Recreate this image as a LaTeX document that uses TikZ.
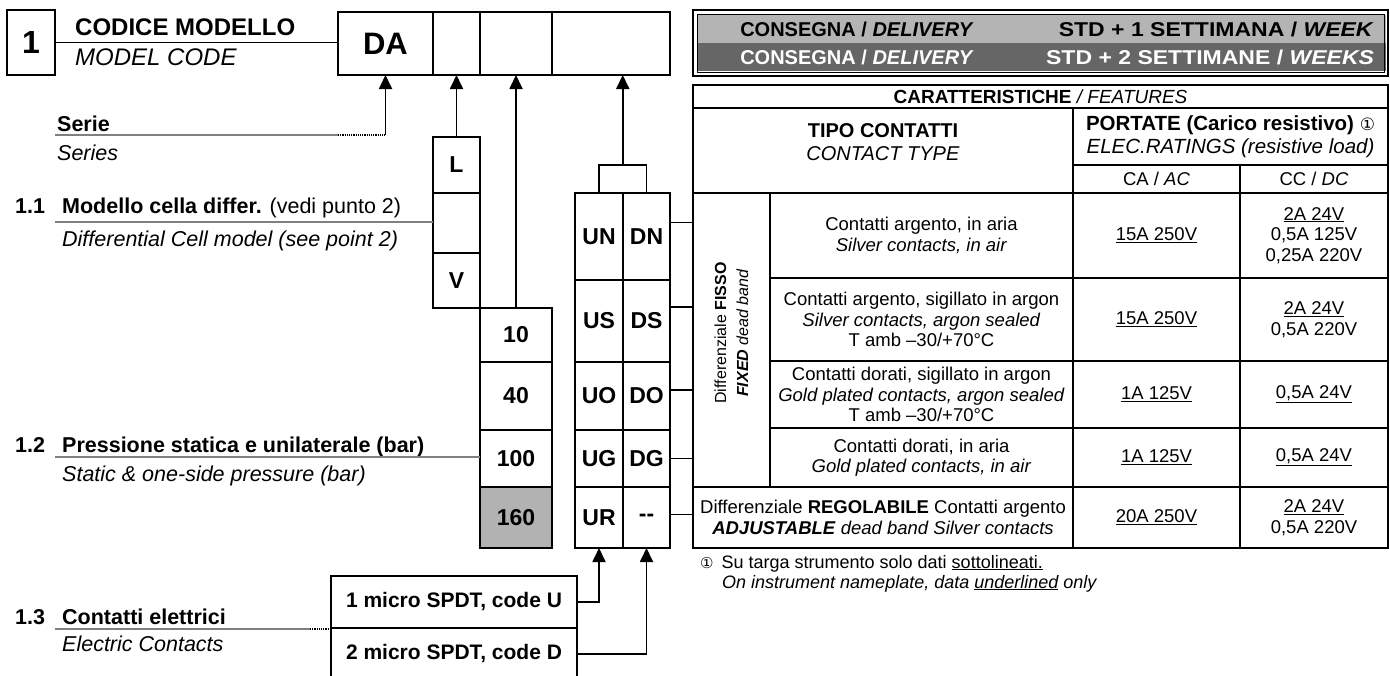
\documentclass[tikz,border=0pt]{standalone}
\usepackage{fontspec}
\setmainfont{Liberation Sans}
\newfontfamily\rotfont{Liberation Sans}
\newfontfamily\symfont{DejaVu Sans}
\usetikzlibrary{arrows.meta, calc, positioning}

\definecolor{lightrow}{RGB}{180,180,180}
\definecolor{darkrow}{RGB}{102,102,102}
\definecolor{fillgray}{RGB}{178,178,178}
\definecolor{leadgray}{RGB}{128,128,128}

\newcommand{\tabfont}{\fontsize{18.5}{20.5}\selectfont}
\newcommand{\lblfont}{\fontsize{21.5}{25}\selectfont}
\newcommand{\codefont}{\bfseries\fontsize{23}{26}\selectfont}

\begin{document}
\begin{tikzpicture}[
    x=1pt, y=-1pt,
    codebox/.style={draw, line width=2.8pt, inner sep=0pt, outer sep=0pt, anchor=north west, font=\codefont}, % code boxes
    sz/.style 2 args={minimum width=#1pt, minimum height=#2pt}, % box size
    cell/.style={draw, line width=1.8pt, inner sep=0pt, outer sep=0pt, anchor=north west, align=center, font=\tabfont}, % table cells
    upar/.style={-{Triangle[width=13pt,length=14pt]}, line width=1.8pt}, % arrows up to the code
    leader/.style={leadgray, line width=2pt}, % grey leader lines
    dotlead/.style={densely dotted, line width=1.2pt}, % dotted end of leaders
    link/.style={line width=1.2pt}, % thin links
    lbl/.style={anchor=base west, font=\lblfont, inner sep=0pt}, % left labels
    deltxt/.style={font=\bfseries\fontsize{20}{22}\selectfont} % delivery texts
]
    \useasboundingbox (0,0) rectangle (1390,675);

    % --- Model code ---
    \node[codebox, sz={48}{65}, font=\bfseries\fontsize{32}{34}\selectfont] (one) at (7,10) {1};
    \node[lbl, font=\bfseries\fontsize{24}{27}\selectfont] (title) at (75,35) {CODICE MODELLO};
    \node[lbl, font=\itshape\fontsize{24}{27}\selectfont] (subtitle) at (75,65) {MODEL CODE};

    \node[codebox, sz={95}{63}, font=\bfseries\fontsize{31}{34}\selectfont] (da) at (338,12) {DA};
    \node[codebox, sz={47}{63}] (cser) at (433,12) {};
    \node[codebox, sz={72}{63}] (cpres) at (480,12) {};
    \node[codebox, sz={118}{63}] (ccont) at (552,12) {};
    \draw[line width=1.5pt] (one.east) -- (one.east -| da.west);

    % --- Left labels ---
    \node[lbl, font=\bfseries\lblfont] (serie) at (57,131) {Serie};
    \node[lbl, font=\itshape\lblfont] (series) at (57,160) {Series};

    \node[lbl, font=\bfseries\lblfont] (n11) at (15,213) {1.1};
    \node[lbl] (cell11) at (62,213) {\textbf{Modello cella differ.} (vedi punto 2)};
    \node[lbl, font=\itshape\lblfont] (cell11en) at (62,246) {Differential Cell model (see point 2)};

    \node[lbl, font=\bfseries\lblfont] (n12) at (15,452) {1.2};
    \node[lbl, font=\bfseries\lblfont] (pres12) at (62,452) {Pressione statica e unilaterale (bar)};
    \node[lbl, font=\itshape\lblfont] (pres12en) at (62,481) {Static \& one-side pressure (bar)};

    \node[lbl, font=\bfseries\lblfont] (n13) at (15,624) {1.3};
    \node[lbl, font=\bfseries\lblfont] (cont13) at (62,624) {Contatti elettrici};
    \node[lbl, font=\itshape\lblfont] (cont13en) at (62,651) {Electric Contacts};

    % --- Cell model column ---
    \node[codebox, sz={47}{56}] (lbox) at (433,137) {L};
    \node[codebox, sz={47}{60}] (midbox) at (433,193) {};
    \node[codebox, sz={47}{55}] (vbox) at (433,253) {V};

    % --- Pressure column ---
    \node[codebox, sz={72}{54}] (p10) at (480,308) {10};
    \node[codebox, sz={72}{68}] (p40) at (480,362) {40};
    \node[codebox, sz={72}{57}] (p100) at (480,430) {100};
    \node[codebox, sz={72}{61}, fill=fillgray] (p160) at (480,487) {160};

    % --- Contacts column ---
    \node[codebox, sz={48}{87}] (un) at (575,193) {UN};
    \node[codebox, sz={47}{87}] (dn) at (623,193) {DN};
    \node[codebox, sz={48}{82}] (us) at (575,280) {US};
    \node[codebox, sz={47}{82}] (ds) at (623,280) {DS};
    \node[codebox, sz={48}{68}] (uo) at (575,362) {UO};
    \node[codebox, sz={47}{68}] (do) at (623,362) {DO};
    \node[codebox, sz={48}{57}] (ug) at (575,430) {UG};
    \node[codebox, sz={47}{57}] (dg) at (623,430) {DG};
    \node[codebox, sz={48}{61}] (ur) at (575,487) {UR};
    \node[codebox, sz={47}{61}] (dnone) at (623,487) {-{}-};

    % --- Micro switches ---
    \node[codebox, line width=2pt, sz={246}{52}, font=\bfseries\fontsize{21}{24}\selectfont] (spu) at (331,576) {1 micro SPDT, code U};
    \node[codebox, line width=2pt, sz={246}{52}, font=\bfseries\fontsize{21}{24}\selectfont] (spd) at (331,628) {2 micro SPDT, code D};

    % --- Leaders and arrows ---
    \coordinate (serln) at (55,135);
    \draw[leader] (serln) -- (serln -| da.west);
    \draw[dotlead] (serln -| da.west) -- (serln -| da.south);
    \draw[upar] (serln -| da.south) -- (da.south);

    \coordinate (ln11) at (55,222);
    \draw[leader] (ln11) -- (ln11 -| midbox.west);
    \coordinate (ln12) at (55,457);
    \draw[leader] (ln12) -- (ln12 -| p100.west);
    \coordinate (ln13) at (55,629);
    \draw[leader] (ln13) -- ++(255,0) coordinate (ln13end);
    \draw[dotlead] (ln13end) -- (ln13 -| spu.west);

    \draw[upar] (lbox.north) -- (cser.south);
    \draw[upar] (p10.north) -- (cpres.south);
    \draw[link] (un.north) -- ++(0,-28) -| (dn.north);
    \coordinate (brk) at ($(un.north)!0.5!(dn.north)+(0,-28)$);
    \draw[upar] (brk) -- (brk |- ccont.south);
    \draw[upar] (spu.east) -| (ur.south);
    \draw[upar] (spd.east) -| (dnone.south);

    % --- Delivery box ---
    \node[anchor=north west, inner sep=0pt, outer sep=0pt, fill=lightrow, sz={689}{28}] (del1) at (697,15) {};
    \node[anchor=north west, inner sep=0pt, outer sep=0pt, fill=darkrow, sz={689}{28}] (del2) at (697,43) {};
    \draw[line width=2pt] (693,10) rectangle (1388,76);
    \draw[line width=0.8pt] (697,14) rectangle (1384,72);
    \node[deltxt] (del1a) at (857,29) {CONSEGNA / \textit{DELIVERY}};
    \node[deltxt, anchor=east, xscale=1.15, transform shape] (del1b) at (1378,29) {STD + 1 SETTIMANA / \textit{WEEK}};
    \node[deltxt, white] (del2a) at (857,57) {CONSEGNA / \textit{DELIVERY}};
    \node[deltxt, white, anchor=east, xscale=1.15, transform shape] (del2b) at (1378,57) {STD + 2 SETTIMANE / \textit{WEEKS}};

    % --- Features table ---
    \node[cell, sz={695}{23}, line width=2pt, font=\fontsize{19}{21}\selectfont] (feat) at (693,85) {\textbf{CARATTERISTICHE} \textit{/ FEATURES}};
    \node[cell, sz={380}{85}] (tipo) at (693,108) {};
    \node[align=center, font=\fontsize{20}{23}\selectfont] (tipotxt) at ([yshift=8pt]tipo.center) {\textbf{TIPO CONTATTI}\\\textit{CONTACT TYPE}};
    \node[cell, sz={315}{57}, font=\fontsize{20.5}{22.5}\selectfont] (port) at (1073,108) {\textbf{PORTATE (Carico resistivo)} {\symfont\fontsize{17}{20}\selectfont ①}\\\textit{ELEC.RATINGS (resistive load)}};
    \node[cell, sz={167}{28}] (ca) at (1073,165) {CA / \textit{AC}};
    \node[cell, sz={148}{28}] (cc) at (1240,165) {CC / \textit{DC}};

    \node[cell, sz={77}{294}] (fix) at (693,193) {};
    \node[rotate=90, align=center, font=\rotfont\fontsize{16}{22}\selectfont] (fixtxt) at ([yshift=7pt]fix.center) {Differenziale \textbf{FISSO}\\\textbf{\textit{FIXED}} \textit{dead band}};

    \node[cell, sz={303}{85}] (d1) at (770,193) {Contatti argento, in aria\\\textit{Silver contacts, in air}};
    \node[cell, sz={167}{85}] (a1) at (1073,193) {\underline{15A 250V}};
    \node[cell, sz={148}{85}] (c1) at (1240,193) {\underline{2A 24V}\\0,5A 125V\\0,25A 220V};

    \node[cell, sz={303}{83}] (d2) at (770,278) {Contatti argento, sigillato in argon\\\textit{Silver contacts, argon sealed}\\T amb --30/+70°C};
    \node[cell, sz={167}{83}] (a2) at (1073,278) {\underline{15A 250V}};
    \node[cell, sz={148}{83}] (c2) at (1240,278) {\underline{2A 24V}\\0,5A 220V};

    \node[cell, sz={303}{67}] (d3) at (770,361) {Contatti dorati, sigillato in argon\\\textit{Gold plated contacts, argon sealed}\\T amb --30/+70°C};
    \node[cell, sz={167}{67}] (a3) at (1073,361) {\underline{1A 125V}};
    \node[cell, sz={148}{67}] (c3) at (1240,361) {\underline{0,5A 24V}};

    \node[cell, sz={303}{59}] (d4) at (770,428) {Contatti dorati, in aria\\\textit{Gold plated contacts, in air}};
    \node[cell, sz={167}{59}] (a4) at (1073,428) {\underline{1A 125V}};
    \node[cell, sz={148}{59}] (c4) at (1240,428) {\underline{0,5A 24V}};

    \node[cell, sz={380}{61}] (d5) at (693,487) {Differenziale \textbf{REGOLABILE} Contatti argento\\\textbf{\textit{ADJUSTABLE}} \textit{dead band Silver contacts}};
    \node[cell, sz={167}{61}] (a5) at (1073,487) {\underline{20A 250V}};
    \node[cell, sz={148}{61}] (c5) at (1240,487) {\underline{2A 24V}\\0,5A 220V};

    \draw[line width=2.4pt] (fix.north west) -- (c1.north east);
    \draw[line width=2.4pt] (d5.north west) -- (c5.north east);
    \draw[line width=2pt] (tipo.north west) rectangle (c5.south east);

    % --- Links from contacts to table ---
    \draw[link] ([yshift=14pt]dn.east) -- ([yshift=14pt]dn.east -| fix.west);
    \draw[link] ([yshift=14pt]ds.east) -- ([yshift=14pt]ds.east -| fix.west);
    \draw[link] ([yshift=6pt]do.east) -- ([yshift=6pt]do.east -| fix.west);
    \draw[link] (dg.east) -- (dg.east -| fix.west);
    \draw[link] ([yshift=3pt]dnone.east) -- ([yshift=3pt]dnone.east -| d5.west);

    % --- Footnote ---
    \node[anchor=base west, inner sep=0pt, font=\fontsize{18}{21}\selectfont] (note1) at (700,568) {{\symfont\fontsize{15}{18}\selectfont ①}\hspace{8pt}Su targa strumento solo dati \underline{sottolineati.}};
    \node[anchor=base west, inner sep=0pt, font=\itshape\fontsize{18}{21}\selectfont] (note2) at (722,588) {On instrument nameplate, data \underline{underlined} only};
\end{tikzpicture}
\end{document}
